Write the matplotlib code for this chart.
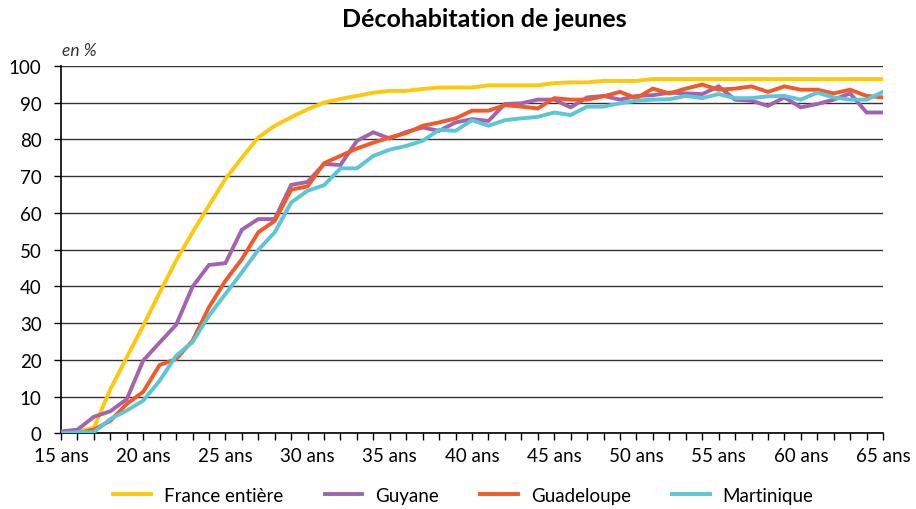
import numpy as np
import matplotlib
matplotlib.use("Agg")
import matplotlib.pyplot as plt

# ages 15..65
ages = list(range(15, 66))

france = [0, 0.5, 1.5, 12, 20.7, 29.3, 38.3, 47, 54.7, 62, 69.2, 75, 80.5, 83.7, 86,
          88.2, 90, 91, 91.8, 92.7, 93.2, 93.2, 93.7, 94.1, 94.1, 94.1, 94.7, 94.7, 94.7, 94.7,
          95.3, 95.5, 95.5, 95.9, 95.9, 95.9, 96.4, 96.4, 96.4, 96.4, 96.4, 96.4, 96.4, 96.4,
          96.4, 96.4, 96.4, 96.4, 96.4, 96.4, 96.4]

guyane = [0.5, 1, 4.5, 6, 9.3, 19.8, 24.7, 29.5, 39.9, 45.8, 46.3, 55.4, 58.3, 58.3, 67.6,
          68.4, 73.3, 73, 79.6, 81.9, 80.2, 82, 83.2, 82.3, 84.6, 85.5, 85, 89.6, 89.8, 90.8,
          90.8, 88.7, 91.4, 91.8, 90.8, 91.8, 92, 92.7, 92.5, 92.3, 94.4, 90.8, 90.5, 89.1,
          91.4, 88.7, 89.6, 90.8, 92.5, 87.3, 87.3]

guadeloupe = [0, 0, 1, 3.4, 8, 11.3, 18.6, 20.2, 25.2, 34.3, 41.5, 47.4, 54.7, 57.8, 66.3,
              67.2, 73.5, 75.5, 77.5, 79.1, 80.5, 81.7, 83.7, 84.6, 85.7, 87.8, 87.8, 89.3, 88.9, 88.4,
              91.2, 90.8, 90.8, 91.7, 92.9, 91.2, 93.8, 92.5, 93.8, 94.9, 93.5, 93.8, 94.4, 92.9,
              94.4, 93.5, 93.5, 92.5, 93.5, 91.8, 91.4]

martinique = [0, 0.3, 0.3, 3.9, 6.2, 8.9, 14.3, 21.1, 24.8, 32, 37.9, 43.8, 49.9, 54.7, 62.8,
              66, 67.5, 72.1, 72.1, 75.5, 77.2, 78.2, 79.6, 82.6, 82.3, 85.2, 83.7, 85.2, 85.7, 86.1,
              87.3, 86.6, 88.9, 88.9, 89.8, 90.5, 90.8, 90.9, 91.8, 91.2, 92.3, 91.2, 91.2, 91.7,
              91.8, 90.8, 92.7, 91.4, 90.8, 90.8, 92.9]

series = ["France entière", "Guyane", "Guadeloupe", "Martinique"]
colors = ["#FFC80A", "#A463AE", "#F05A28", "#5BC6D6"]

xticks = list(range(15, 66, 5))
xlabels = [f"{a} ans" for a in xticks]
yticks = list(range(0, 101, 10))

plt.rcParams["font.family"] = ["Lato", "DejaVu Sans"]

fig = plt.figure(figsize=(9.16, 5.10), dpi=100)
ax = fig.add_axes([0.0666, 0.1484, 0.8974, 0.7206])

for name, vals, c in zip(series, [france, guyane, guadeloupe, martinique], colors):
    ax.plot(ages, vals, color=c, lw=2.8, label=name, solid_joinstyle="miter", zorder=3)

ax.set_xlim(15, 65)
ax.set_ylim(0, 100)
ax.set_yticks(yticks)
ax.set_xticks(xticks)
ax.set_xticklabels(xlabels)
ax.set_xticks(ages, minor=True)
ax.grid(axis="y", color="#333333", lw=1.0, zorder=1)
for s in ["top", "right"]:
    ax.spines[s].set_visible(False)
for s in ["left", "bottom"]:
    ax.spines[s].set_color("black")
    ax.spines[s].set_linewidth(1.2)
ax.tick_params(axis="y", length=5, width=1, labelsize=13.5, pad=9, colors="black")
ax.tick_params(axis="x", which="both", length=5, width=1, direction="out", labelsize=13.5, pad=5)

fig.text(0.529, 0.962, "Décohabitation de jeunes", ha="center", va="center",
         fontsize=18, fontweight="bold")
fig.text(0.068, 0.9, "en %", ha="left", va="center", fontsize=12.5, style="italic", color="#333333")

fig.legend(loc="center", bbox_to_anchor=(0.506, 0.027), ncol=4, frameon=False,
           fontsize=13.5, handlelength=2.0, columnspacing=2.2, handletextpad=0.7)

fig.savefig("out.png", dpi=100)
